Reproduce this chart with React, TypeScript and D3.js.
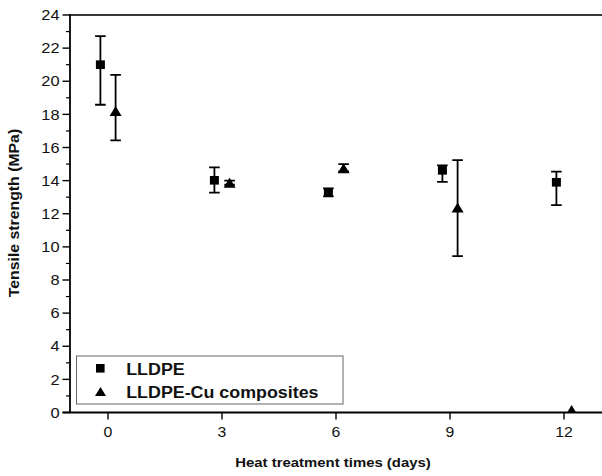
import React from "react";
import * as d3 from "d3";

const days = [0, 3, 6, 9, 12];
const lldpe = [21.0, 14.02, 13.3, 14.62, 13.9];
const lldpeLow = [18.58, 13.27, 13.05, 13.93, 12.52];
const lldpeHigh = [22.73, 14.8, 13.53, 14.92, 14.54];
const comp = [18.2, 13.87, 14.74, 12.38, 0.15];
const compLow = [16.43, 13.75, 14.55, 9.44, 0.15];
const compHigh = [20.39, 14.0, 15.0, 15.24, 0.15];
const yTicks = [0, 2, 4, 6, 8, 10, 12, 14, 16, 18, 20, 22, 24];
const xTicks = [0, 3, 6, 9, 12];
const legendLabels = ["LLDPE", "LLDPE-Cu composites"];
const xTitle = "Heat treatment times (days)";
const yTitle = "Tensile strength (MPa)";

const W = 602, H = 476;
const left = 70, top = 15, bottom = 412.5;
const x = d3.scaleLinear().domain([-1, 13]).range([left, left + 14 * 38]);
const y = d3.scaleLinear().domain([0, 24]).range([bottom, top]);
const font = "'Liberation Sans', Arial, Helvetica, sans-serif";
const SX = 1.13;
const offset = 0.2;

function triPath(cx: number, cy: number, hw: number, h: number) {
  const p = d3.path();
  p.moveTo(cx, cy - h / 2);
  p.lineTo(cx + hw, cy + h / 2);
  p.lineTo(cx - hw, cy + h / 2);
  p.closePath();
  return p.toString();
}

function ErrBar({ cx, lo, hi }: { cx: number; lo: number; hi: number }) {
  if (hi - lo < 0.01) return null;
  const c = 5.3;
  return (
    <g stroke="#000" strokeWidth={1.8}>
      <line x1={cx} x2={cx} y1={y(lo)} y2={y(hi)} />
      <line x1={cx - c} x2={cx + c} y1={y(lo)} y2={y(lo)} />
      <line x1={cx - c} x2={cx + c} y1={y(hi)} y2={y(hi)} />
    </g>
  );
}

function T({ x: tx, y: ty, size, anchor = "start", bold = false, rotate = 0, children }: any) {
  return (
    <text
      transform={`translate(${tx},${ty}) rotate(${rotate}) scale(${SX},1)`}
      textAnchor={anchor}
      fontSize={size}
      fontWeight={bold ? "bold" : "normal"}
      fill="#111"
    >
      {children}
    </text>
  );
}

export default function App() {
  const minor = d3.range(1, 24, 2);
  return (
    <svg width={W} height={H} style={{ position: "absolute", left: 0, top: 0, background: "#fff" }} fontFamily={font}>
      <defs>
        <clipPath id="plot">
          <rect x={left} y={top} width={W - left} height={bottom - top} />
        </clipPath>
      </defs>
      <rect width={W} height={H} fill="#fff" />
      {/* data */}
      <g clipPath="url(#plot)">
        {days.map((d, i) => {
          const cx = x(d - offset);
          return (
            <g key={"a" + i}>
              <ErrBar cx={cx} lo={lldpeLow[i]} hi={lldpeHigh[i]} />
              <rect x={cx - 4.5} y={y(lldpe[i]) - 4.3} width={9} height={8.6} fill="#000" />
            </g>
          );
        })}
        {days.map((d, i) => {
          const cx = x(d + offset);
          return (
            <g key={"b" + i}>
              <ErrBar cx={cx} lo={compLow[i]} hi={compHigh[i]} />
              <path d={triPath(cx, y(comp[i]), 6, 10)} fill="#000" />
            </g>
          );
        })}
      </g>
      {/* frame */}
      <line x1={left} x2={W} y1={top} y2={top} stroke="#3a3a3a" strokeWidth={2} />
      <line x1={left} x2={left} y1={top - 1} y2={bottom} stroke="#000" strokeWidth={1.8} />
      <line x1={left - 7.5} x2={W} y1={bottom} y2={bottom} stroke="#000" strokeWidth={1.8} />
      {/* y ticks */}
      {yTicks.map((t) => (
        <g key={t}>
          <line x1={left - 7.5} x2={left} y1={y(t)} y2={y(t)} stroke="#000" strokeWidth={1.4} />
          <T x={left - 10.5} y={y(t) + 5.2} size={14.5} anchor="end">{t}</T>
        </g>
      ))}
      {minor.map((t) => (
        <line key={"m" + t} x1={left - 4} x2={left} y1={y(t)} y2={y(t)} stroke="#000" strokeWidth={1.2} />
      ))}
      {/* x ticks */}
      {xTicks.map((t) => (
        <g key={t}>
          <line x1={x(t)} x2={x(t)} y1={bottom} y2={bottom + 7} stroke="#000" strokeWidth={1.4} />
          <T x={x(t)} y={437.3} size={14} anchor="middle">{t}</T>
        </g>
      ))}
      <T x={333} y={467} size={13.2} anchor="middle" bold>{xTitle}</T>
      <T x={18.5} y={213} size={14} anchor="middle" bold rotate={-90}>{yTitle}</T>
      {/* legend */}
      <rect x={76.5} y={356} width={266.5} height={48} fill="#fff" stroke="#666" strokeWidth={1} />
      <rect x={96} y={364} width={8.6} height={8.6} fill="#000" />
      <path d={triPath(100.5, 391.5, 5.5, 9)} fill="#000" />
      <T x={126.2} y={375} size={15.8} bold>{legendLabels[0]}</T>
      <T x={126.2} y={397.7} size={15.8} bold>{legendLabels[1]}</T>
    </svg>
  );
}
